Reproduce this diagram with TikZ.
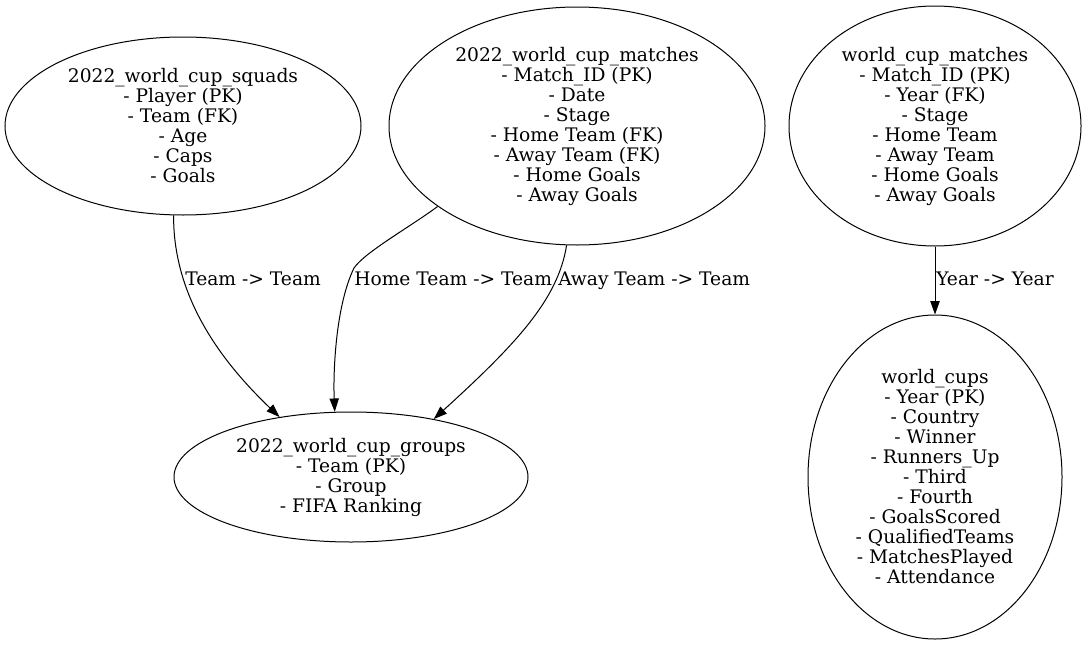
\documentclass[tikz,border=0pt]{standalone}
\usepackage{fontspec}
\setmainfont{DejaVu Serif}
\usetikzlibrary{shapes.geometric,arrows.meta}
\begin{document}
\begin{tikzpicture}[x=0.75pt,y=-0.75pt,
  ent/.style={draw,ellipse,inner sep=0pt,align=center,font=\fontsize{14pt}{15pt}\selectfont,line width=0.75pt},
  lbl/.style={anchor=base west,inner sep=0pt,font=\fontsize{14pt}{15pt}\selectfont},
  rel/.style={line width=0.75pt,-{Triangle[length=10pt,width=7pt]}}]
\useasboundingbox (0,0) rectangle (1088,646);
\node[ent,minimum width=267pt,minimum height=133.5pt] (squads) at (183,126)
  {2022\_world\_cup\_squads\\- Player (PK)\\- Team (FK)\\- Age\\- Caps\\- Goals};
\node[ent,minimum width=282pt,minimum height=178.5pt] (m22) at (577,126)
  {2022\_world\_cup\_matches\\- Match\_ID (PK)\\- Date\\- Stage\\- Home Team (FK)\\- Away Team (FK)\\- Home Goals\\- Away Goals};
\node[ent,minimum width=219pt,minimum height=180pt] (wcm) at (935,126)
  {world\_cup\_matches\\- Match\_ID (PK)\\- Year (FK)\\- Stage\\- Home Team\\- Away Team\\- Home Goals\\- Away Goals};
\node[ent,minimum width=265.5pt,minimum height=97.5pt] (groups) at (351,477)
  {2022\_world\_cup\_groups\\- Team (PK)\\- Group\\- FIFA Ranking};
\node[ent,minimum width=190.5pt,minimum height=243pt] (cups) at (935,477)
  {world\_cups\\- Year (PK)\\- Country\\- Winner\\- Runners\_Up\\- Third\\- Fourth\\- GoalsScored\\- QualifiedTeams\\- MatchesPlayed\\- Attendance};
\draw[rel] (squads.264) .. controls (173,300) and (225,365) .. (groups.140);
\draw[line width=0.75pt] (m22.210.7) .. controls (410,227) and (365,252) .. coordinate[pos=1] (hk) (354,268);
\draw[rel] (hk) .. controls (336,305) and (333,370) .. (groups.104);
\draw[rel] (m22.265.7) .. controls (558,300) and (515,345) .. (groups.35);
\draw[rel] (wcm.south) -- (cups.north);
\node[lbl] (l1) at (185,285) {Team -> Team};
\node[lbl] (l2) at (354,285) {Home Team -> Team};
\node[lbl] (l3) at (558,285) {Away Team -> Team};
\node[lbl] (l4) at (936,285) {Year -> Year};
\end{tikzpicture}
\end{document}
